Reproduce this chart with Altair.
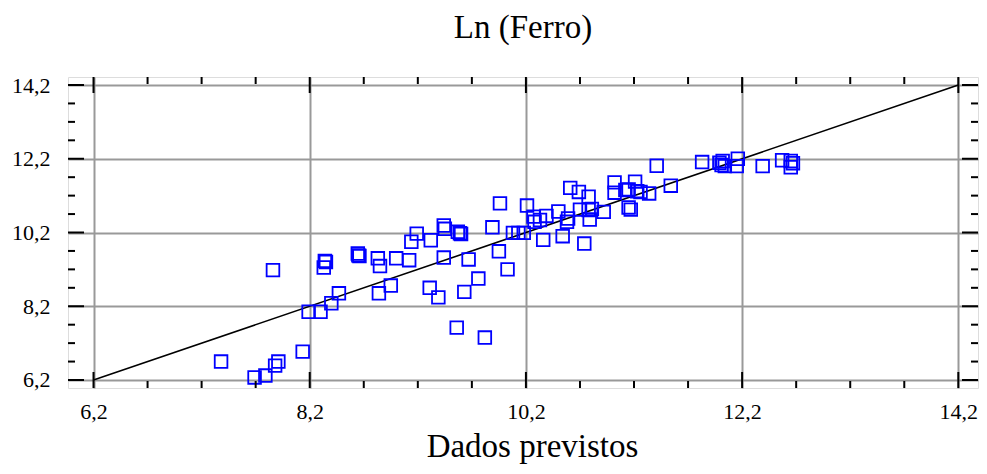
import altair as alt
import pandas as pd

x_pred = [7.38, 7.69, 7.79, 7.88, 7.91, 8.135, 7.86, 8.19, 8.30, 8.40,
          8.47, 8.34, 8.35, 8.33, 8.645, 8.65, 8.66, 8.83, 8.85, 8.84,
          8.95, 9.00, 9.12, 9.14, 9.19, 9.32, 9.31, 9.39, 9.44, 9.45,
          9.57, 9.59, 9.60, 9.44, 9.67, 9.56, 9.63, 9.76, 9.82, 9.89,
          9.95, 9.96, 10.03, 10.08, 10.13, 10.18, 10.21, 10.27, 10.28, 10.33,
          10.39, 10.36, 10.50, 10.54, 10.58, 10.59, 10.61, 10.69, 10.70, 10.74,
          10.78, 10.78, 10.81, 10.79, 10.92, 11.02, 11.02, 11.12, 11.15, 11.21,
          11.23, 11.26, 11.34, 11.15, 11.17, 11.41, 11.54, 11.83, 11.99, 12.02,
          12.04, 12.01, 12.16, 12.15, 12.39, 12.57, 12.65, 12.67, 12.65]
y_obs = [6.70, 6.27, 6.32, 6.59, 6.70, 6.97, 9.18, 8.05, 8.05, 8.28,
         8.55, 9.43, 9.40, 9.25, 9.63, 9.58, 9.56, 9.50, 9.29, 8.55,
         8.76, 9.50, 9.45, 9.95, 10.17, 9.99, 8.70, 8.44, 10.39, 10.30,
         10.22, 10.18, 10.16, 9.52, 9.47, 7.62, 8.59, 8.95, 7.35, 10.34,
         9.69, 10.99, 9.20, 10.19, 10.19, 10.19, 10.93, 10.63, 10.49, 10.54,
         10.65, 10.00, 10.77, 10.10, 10.49, 10.58, 11.41, 11.30, 10.82, 9.90,
         11.17, 10.81, 10.84, 10.55, 10.76, 11.56, 11.28, 11.35, 11.37, 11.58,
         11.32, 11.30, 11.26, 10.88, 10.82, 12.01, 11.47, 12.11, 12.09, 12.14,
         12.00, 12.03, 12.20, 12.00, 12.00, 12.16, 12.14, 12.08, 11.97]

# Reference line y = x
line_x = [6.2, 14.2]
line_y = [6.2, 14.2]

# Tick values
major_ticks = [6.2, 8.2, 10.2, 12.2, 14.2]
x_minor = [6.7, 7.2, 7.7, 8.7, 9.2, 9.7, 10.7, 11.2, 11.7, 12.7, 13.2, 13.7]
y_minor = [6.7, 7.2, 7.7, 8.7, 9.2, 9.7, 10.7, 11.2, 11.7, 12.7, 13.2, 13.7]

W, H = 910, 311
FONT = "Liberation Serif"
MAJ, MIN = 16, 7

xs = alt.Scale(domain=[5.964, 14.382], nice=False, zero=False)
ys = alt.Scale(domain=[5.983, 14.417], nice=False, zero=False)
label_expr = "replace(format(datum.value, '.1f'), '.', ',')"

x_axis = alt.Axis(values=major_ticks, labelExpr=label_expr, grid=True,
                  gridColor="#999999", gridWidth=2, ticks=False, tickSize=0,
                  domain=False, labelPadding=13, labelFont=FONT,
                  labelFontSize=22, labelColor="black", labelFlush=False,
                  title="Dados previstos", titleFont=FONT, titleFontSize=33,
                  titleFontWeight="normal", titleColor="black",
                  titleBaseline="alphabetic", titleY=68, titleX=464,
                  titleAlign="center")
y_axis = alt.Axis(values=major_ticks, labelExpr=label_expr, grid=True,
                  gridColor="#999999", gridWidth=2, ticks=False, tickSize=0,
                  domain=False, labelPadding=18, labelFont=FONT,
                  labelFontSize=22, labelColor="black", labelFlush=False,
                  title=None)

pts = pd.DataFrame({"x": x_pred, "y": y_obs})
ln = pd.DataFrame({"x": line_x, "y": line_y})
maj = pd.DataFrame({"x": major_ticks, "y": major_ticks})
xmin = pd.DataFrame({"x": x_minor})
ymin = pd.DataFrame({"y": y_minor})

X = alt.X("x:Q", scale=xs, axis=x_axis)
Y = alt.Y("y:Q", scale=ys, axis=y_axis)

points = alt.Chart(pts).mark_point(shape="square", filled=False, color="#0000ff",
                                   size=160, strokeWidth=1.8, opacity=1).encode(x=X, y=Y)
diag = alt.Chart(ln).mark_line(color="black", strokeWidth=1.6).encode(x=X, y=Y)

def yticks(df, length):
    r = alt.Chart(df).mark_rule(color="black", strokeWidth=2)
    return [r.encode(y=Y, x=alt.value(0), x2=alt.value(length)),
            r.encode(y=Y, x=alt.value(W), x2=alt.value(W - length))]

def xticks(df, length):
    r = alt.Chart(df).mark_rule(color="black", strokeWidth=2)
    return [r.encode(x=X, y=alt.value(H), y2=alt.value(H - length)),
            r.encode(x=X, y=alt.value(0), y2=alt.value(length))]

layers = [diag, points] + yticks(maj, MAJ) + yticks(ymin, MIN) + xticks(maj, MAJ) + xticks(xmin, MIN)

chart = alt.layer(*layers).properties(
    width=W, height=H,
    title=alt.TitleParams("Ln (Ferro)", font=FONT, fontSize=33, fontWeight="normal",
                          color="black", anchor="middle", baseline="alphabetic", offset=3),
    autosize=alt.AutoSizeParams(type="none"),
    padding={"left": 60, "top": 69, "right": 1, "bottom": 78},
).configure_view(stroke="black", strokeWidth=2).configure(background="white")

chart.save("out.html", embed_options={"renderer": "svg", "actions": False})
